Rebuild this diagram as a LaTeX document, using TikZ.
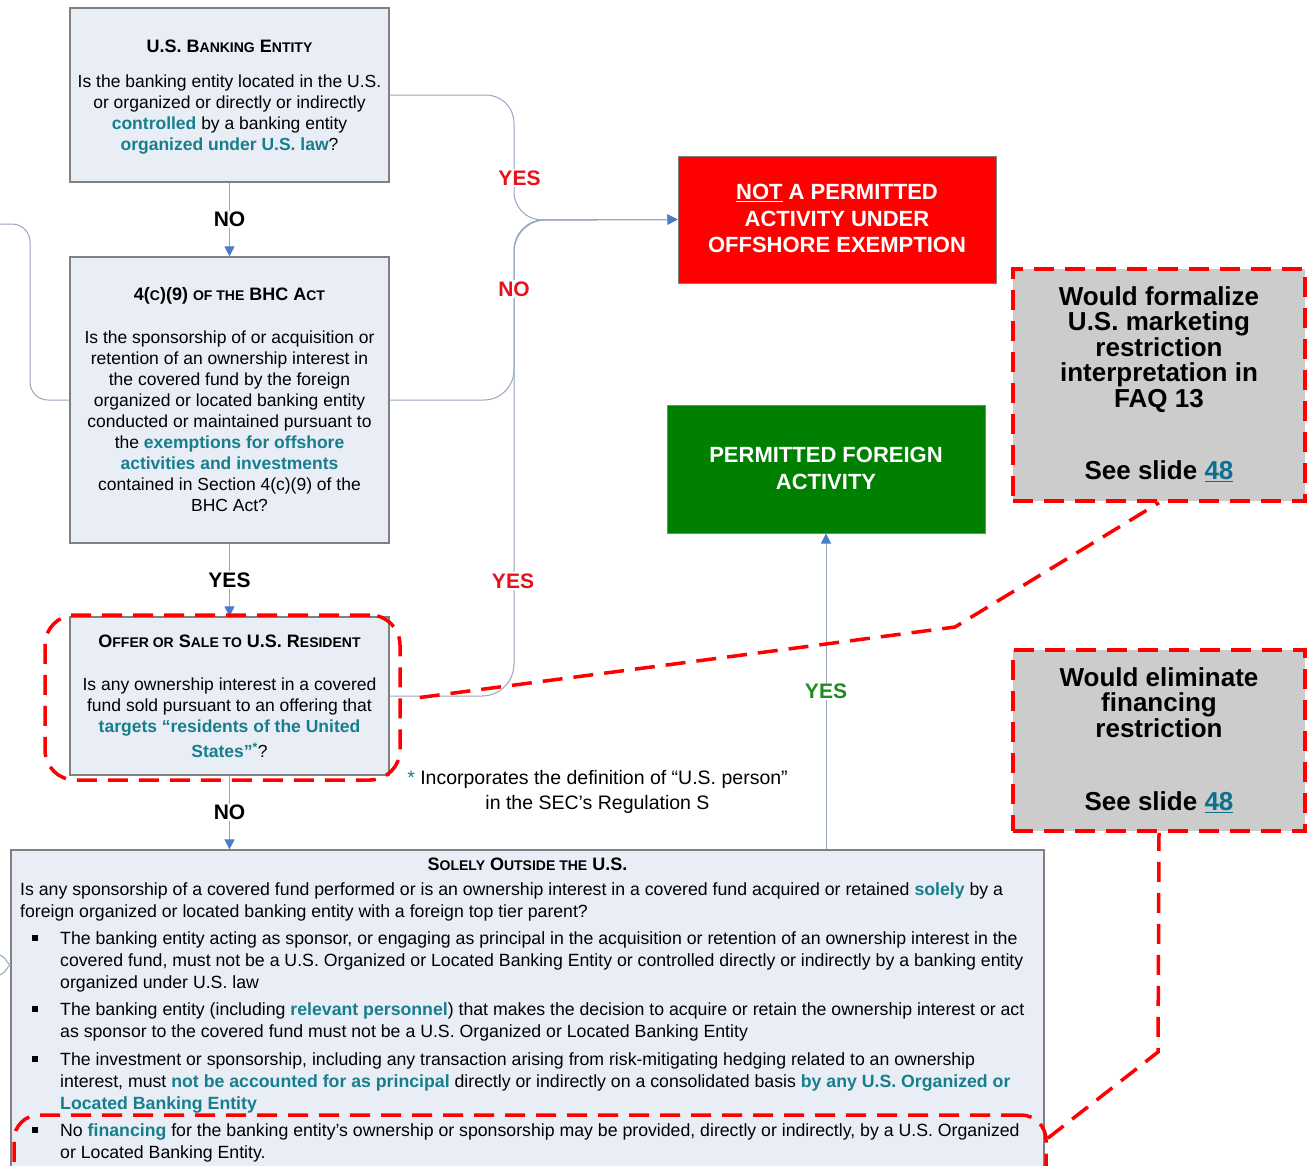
\documentclass[tikz,border=0pt]{standalone}
\usepackage{fontspec}
\setmainfont{Liberation Sans}
\usetikzlibrary{arrows.meta}
\definecolor{boxfill}{HTML}{E9EDF6}
\definecolor{boxline}{HTML}{808080}
\definecolor{connc}{HTML}{97A5BE}
\definecolor{arrowc}{HTML}{4A7CC7}
\definecolor{tealc}{HTML}{177E8C}
\definecolor{redlab}{HTML}{E8101A}
\definecolor{greenlab}{HTML}{1E8C1E}
\definecolor{greenbox}{HTML}{008000}
\definecolor{grayfill}{HTML}{CCCCCC}
\definecolor{linkc}{HTML}{0E6F8E}
\newcommand\bodyfont{\fontsize{17.5pt}{21pt}\selectfont}
\newcommand\Sm[1]{{\fontsize{14pt}{15pt}\selectfont #1}}
\newcommand\ttlx[1]{{\fontsize{18pt}{21pt}\selectfont\bfseries #1}}
\newcommand\tealb[1]{{\bfseries\color{tealc}#1}}
\newcommand\bulx{\makebox[40pt][l]{\hspace{12pt}\rule[4pt]{6pt}{6pt}}}
\newcommand\indx{\hspace*{40pt}}
\begin{document}
\begin{tikzpicture}[x=1pt,y=-1pt,
  qbox/.style={draw=boxline,fill=boxfill,line width=1.2pt,inner sep=0pt},
  txt/.style={inner sep=0pt,align=center,font=\bodyfont},
  conn/.style={draw=connc,line width=1pt},
  arr/.style={-{Triangle[length=10pt,width=10pt,color=arrowc]}},
  lab/.style={fill=white,inner sep=1.5pt,font=\fontsize{21pt}{24pt}\selectfont\bfseries},
  reddash/.style={draw=red,line width=3.5pt,dash pattern=on 20pt off 11pt},
  graybox/.style={reddash,fill=grayfill,inner sep=0pt},
  bigtxt/.style={inner sep=0pt,align=center,font=\fontsize{26pt}{25.5pt}\selectfont\bfseries},
  outtxt/.style={inner sep=0pt,align=center,text=white,font=\fontsize{22pt}{26.5pt}\selectfont\bfseries}]
\useasboundingbox (0,0) rectangle (1312,1165);

% boxes
\node[qbox,minimum width=319,minimum height=174] (b1) at (229.5,95) {};
\node[qbox,minimum width=319,minimum height=286] (b2) at (229.5,400) {};
\node[qbox,minimum width=319,minimum height=158] (b3) at (229.5,696) {};
\node[qbox,minimum width=1033,minimum height=335] (b4) at (527.5,1017.5) {};
\node[draw=boxline,fill=red,line width=1pt,minimum width=318,minimum height=127] (rb) at (837,219.5) {};
\node[draw=boxline,fill=greenbox,line width=1pt,minimum width=318,minimum height=128] (gb) at (826,469) {};

% texts
\node[txt,anchor=north] (b1t) at (229.5,40) {\ttlx{U.S. B\Sm{ANKING} E\Sm{NTITY}}\\[14pt]
Is the banking entity located in the U.S.\\
or organized or directly or indirectly\\
\tealb{controlled} by a banking entity\\
\tealb{organized under U.S. law}?};
\node[txt,anchor=north] (b2t) at (229.5,287) {\ttlx{4(\Sm{C})(9) \Sm{OF THE} BHC A\Sm{CT}}\\[22pt]
Is the sponsorship of or acquisition or\\
retention of an ownership interest in\\
the covered fund by the foreign\\
organized or located banking entity\\
conducted or maintained pursuant to\\
the \tealb{exemptions for offshore}\\
\tealb{activities and investments}\\
contained in Section 4(c)(9) of the\\
BHC Act?};
\node[txt,anchor=north] (b3t) at (229.5,635) {\ttlx{O\Sm{FFER OR} S\Sm{ALE TO} U.S. R\Sm{ESIDENT}}\\[22pt]
Is any ownership interest in a covered\\
fund sold pursuant to an offering that\\
\tealb{targets “residents of the United}\\[4pt]
\tealb{States”\textsuperscript{*}}?};
\node[inner sep=0pt,anchor=base,font=\bodyfont] (b4h) at (527.5,870) {\ttlx{S\Sm{OLELY} O\Sm{UTSIDE THE} U.S.}};
\node[inner sep=0pt,align=left,anchor=north west,font=\fontsize{17.7pt}{22pt}\selectfont] (b4t) at (20,882.5) {%
Is any sponsorship of a covered fund performed or is an ownership interest in a covered fund acquired or retained \tealb{solely} by a\\
foreign organized or located banking entity with a foreign top tier parent?\\[5pt]
\bulx The banking entity acting as sponsor, or engaging as principal in the acquisition or retention of an ownership interest in the\\
\indx covered fund, must not be a U.S. Organized or Located Banking Entity or controlled directly or indirectly by a banking entity\\
\indx organized under U.S. law\\[5pt]
\bulx The banking entity (including \tealb{relevant personnel}) that makes the decision to acquire or retain the ownership interest or act\\
\indx as sponsor to the covered fund must not be a U.S. Organized or Located Banking Entity\\[6pt]
\bulx The investment or sponsorship, including any transaction arising from risk-mitigating hedging related to an ownership\\
\indx interest, must \tealb{not be accounted for as principal} directly or indirectly on a consolidated basis \tealb{by any U.S. Organized or}\\
\indx\tealb{Located Banking Entity}\\[5pt]
\bulx No \tealb{financing} for the banking entity’s ownership or sponsorship may be provided, directly or indirectly, by a U.S. Organized\\
\indx or Located Banking Entity.};
\node[inner sep=0pt,align=center,anchor=north,font=\fontsize{19.5pt}{25pt}\selectfont] (fn) at (597.5,770) {{\color{tealc}*} Incorporates the definition of “U.S. person”\\in the SEC’s Regulation S};
\node[outtxt,anchor=north] (rbt) at (837,184.2) {\underline{NOT} A PERMITTED\\ACTIVITY UNDER\\OFFSHORE EXEMPTION};
\node[outtxt,anchor=north] (gbt) at (826,447.2) {PERMITTED FOREIGN\\ACTIVITY};

% connectors
\coordinate (offL) at (0,224);
\draw[conn,rounded corners=18pt] (b2.west) -- (30,400) -- (30,224) -- (offL);
\coordinate (offA) at (0,955);
\coordinate (offB) at (0,975);
\coordinate (j4) at ([yshift=52.5pt]b4.west);
\draw[conn] (offA) .. controls (6,957) and (8,965) .. (j4) .. controls (8,965) and (6,973) .. (offB);

\draw[conn,arr,rounded corners=28pt] (b1.east) -- (514,95) -- (514,220) -- (rb.west);
\draw[conn,arr,rounded corners=30pt] (b2.east) -- (514,400) -- (514,220) -- (rb.west);
\draw[conn,arr,rounded corners=32pt] (b3.east) -- (514,696) -- (514,220) -- (rb.west);
\node[lab,text=redlab] (l1) at (519.5,178) {YES};
\node[lab,text=redlab] (l2) at (514,289) {NO};
\node[lab,text=redlab] (l3) at (513,581) {YES};

\draw[conn,arr] (b1.south) -- node[lab] (l4) {NO} (b2.north);
\draw[conn,arr] (b2.south) -- node[lab] (l5) {YES} (b3.north);
\draw[conn,arr] (b3.south) -- node[lab] (l6) {NO} (b3.south |- b4.north);
\draw[conn,arr] (b4.north -| gb.south) -- node[lab,text=greenlab] (l7) {YES} (gb.south);

% gray notes
\node[graybox,minimum width=292,minimum height=232] (g1) at (1159,385) {};
\node[graybox,minimum width=292,minimum height=181] (g2) at (1159,740.5) {};
\node[bigtxt,anchor=north] (g1t) at (1159,286.4) {Would formalize\\U.S. marketing\\restriction\\interpretation in\\FAQ 13\\[46.5pt]See slide {\color{linkc}\underline{48}}};
\node[bigtxt,anchor=north] (g2t) at (1159,667.4) {Would eliminate\\financing\\restriction\\[47.5pt]See slide {\color{linkc}\underline{48}}};

% red call-outs
\node[reddash,rounded corners=30pt,minimum width=355,minimum height=165] (call1) at (222.5,697.5) {};
\node[reddash,rounded corners=25pt,minimum width=1032,minimum height=80] (call2) at (530,1155) {};
\coordinate (k1) at (955,627);
\draw[reddash] ([xshift=18pt]call1.east) -- (k1) -- (g1.south);
\coordinate (k2) at (1158,1052);
\draw[reddash] ([yshift=-25pt]call2.north east) -- (k2) -- (g2.south);
\end{tikzpicture}
\end{document}
